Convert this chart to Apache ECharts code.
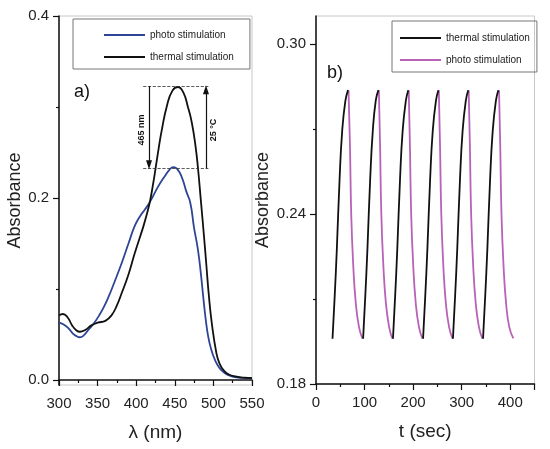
<!DOCTYPE html>
<html>
<head>
<meta charset="utf-8">
<title>Absorbance</title>
<script src="https://cdn.jsdelivr.net/npm/echarts@6.0.0/dist/echarts.min.js"></script>
<style>
html, body { margin: 0; padding: 0; background: #fff; }
#chart { width: 550px; height: 449px; }
</style>
</head>
<body>
<div id="chart"></div>
<script>
// a) spectra, [lambda nm, absorbance]
var photoSpectrum = [
	[300,0.063],[306,0.061],[312,0.057],[318,0.051],[323,0.048],[327,0.047],[332,0.049],[338,0.055],
	[345,0.062],[352,0.071],[358,0.080],[364,0.091],[372,0.108],[381,0.128],[390,0.150],[398,0.169],
	[405,0.180],[411,0.187],[418,0.196],[428,0.212],[437,0.224],[443,0.231],[448,0.234],[453,0.232],
	[459,0.223],[465,0.207],[470,0.195],[475,0.167],[480,0.143],[484,0.115],[487,0.090],[490,0.067],
	[493,0.049],[497,0.034],[502,0.022],[508,0.013],[515,0.0075],[522,0.0045],[530,0.003],[540,0.0022],[550,0.002]
];
var thermalSpectrum = [
	[300,0.071],[305,0.0725],[311,0.069],[317,0.060],[322,0.055],[327,0.053],[334,0.055],[342,0.060],
	[350,0.063],[360,0.065],[368,0.071],[375,0.082],[381,0.095],[390,0.116],[398,0.139],[409,0.168],
	[414,0.183],[418,0.197],[422,0.216],[425,0.232],[429,0.254],[433,0.274],[440,0.302],[447,0.318],
	[454,0.322],[461,0.316],[467,0.300],[472,0.283],[477,0.256],[480,0.233],[484,0.195],[488,0.156],
	[491,0.125],[494,0.094],[498,0.062],[504,0.029],[508,0.018],[513,0.011],[520,0.006],[530,0.0037],
	[540,0.0025],[550,0.002]
];
// dashed levels of the two peak heights on a)
var peakLevels = [0.323, 0.2325];

// b) switching cycles, [t sec, absorbance]
var thermalCycles = [
	[[34,0.196],[38.5,0.211],[43,0.228],[48.5,0.252],[54,0.2695],[60.5,0.280],[66,0.2838]],
	[[97,0.196],[101.5,0.211],[106,0.228],[111.5,0.252],[117,0.2695],[123,0.280],[128.5,0.2838]],
	[[158.5,0.196],[163,0.211],[167.5,0.228],[173,0.252],[178.5,0.2695],[185,0.280],[190,0.2838]],
	[[220.5,0.196],[225,0.211],[229.5,0.228],[235,0.252],[240.5,0.2695],[247,0.280],[252,0.2838]],
	[[282,0.196],[286.5,0.211],[291,0.228],[296.5,0.252],[302,0.2695],[308.5,0.280],[313.5,0.2838]],
	[[344,0.196],[348.5,0.211],[353,0.228],[358.5,0.252],[364,0.2695],[370.5,0.280],[375.5,0.2838]]
];
var photoCycles = [
	[[67,0.2838],[70,0.2638],[72.5,0.2403],[76.5,0.2226],[82,0.2085],[88.5,0.2002],[95.5,0.1961]],
	[[129.5,0.2838],[132,0.2638],[134.5,0.2403],[138.5,0.2226],[144,0.2085],[150.5,0.2002],[157,0.1961]],
	[[191,0.2838],[193.5,0.2638],[196,0.2403],[200,0.2226],[205.5,0.2085],[212,0.2002],[219,0.1961]],
	[[253,0.2838],[255.5,0.2638],[258,0.2403],[262,0.2226],[267.5,0.2085],[274,0.2002],[281,0.1961]],
	[[314.5,0.2838],[317,0.2638],[319.5,0.2403],[323.5,0.2226],[329,0.2085],[335.5,0.2002],[342.5,0.1961]],
	[[377,0.2838],[379.5,0.2638],[382,0.2403],[386,0.2226],[391.5,0.2085],[398,0.2002],[406.5,0.1961]]
];

var spectrumLabels = [0, 0.2, 0.4];
var spectrumMinor = [0.1, 0.3];
var cycleLabels = [0.18, 0.24, 0.30];
var cycleMinor = [0.21, 0.27];

var legendNames = {
	'photo-a': 'photo stimulation',
	'thermal-a': 'thermal stimulation',
	'thermal-b': 'thermal stimulation',
	'photo-b': 'photo stimulation'
};

var FONT = 'Liberation Sans, Arial, sans-serif';
var BLUE = '#2e4596', BLACK = '#111', PINK = '#b862b8';

function xAxisOf(grid, min, max, interval, name) {
	return {
		type: 'value', gridIndex: grid, min: min, max: max, interval: interval,
		name: name, nameLocation: 'middle', nameGap: 38,
		nameTextStyle: { fontSize: 19, color: '#222', fontFamily: FONT },
		axisLine: { lineStyle: { color: '#111', width: 1.5 } },
		axisTick: { inside: false, length: 6, lineStyle: { color: '#111', width: 1.2 } },
		minorTick: { show: true, splitNumber: 2, length: 3, lineStyle: { color: '#111', width: 1.2 } },
		axisLabel: { fontSize: 15, color: '#222', fontFamily: FONT, margin: 11 },
		splitLine: { show: false }
	};
}
function yAxisOf(grid, min, max, labels, digits, name, gap) {
	return {
		type: 'value', gridIndex: grid, min: min, max: max, position: 'left',
		name: name, nameLocation: 'middle', nameGap: gap,
		nameTextStyle: { fontSize: 18, color: '#222', fontFamily: FONT },
		axisLine: { lineStyle: { color: '#111', width: 1.5 } },
		axisTick: { length: 6, customValues: labels, lineStyle: { color: '#111', width: 1.2 } },
		axisLabel: {
			fontSize: 15, color: '#222', fontFamily: FONT, margin: 10,
			customValues: labels,
			formatter: function (v) { return v.toFixed(digits); }
		},
		splitLine: { show: false }
	};
}
function minorAxisOf(grid, min, max, ticks) {
	return {
		type: 'value', gridIndex: grid, min: min, max: max, position: 'left',
		axisLine: { show: false },
		axisTick: { length: 3, customValues: ticks, lineStyle: { color: '#111', width: 1.2 } },
		axisLabel: { show: false },
		splitLine: { show: false }
	};
}
function legendOf(left, top, names, padding) {
	return {
		left: left, top: top, orient: 'vertical', data: names,
		icon: 'path://M0,0H41V2H0Z',
		itemWidth: 41, itemHeight: 2, itemGap: 10, padding: padding,
		borderColor: '#777', borderWidth: 1, selectedMode: false,
		textStyle: { fontSize: 10, color: '#222', fontFamily: FONT, lineHeight: 12 },
		formatter: function (n) { return legendNames[n]; }
	};
}

var series = [
	{
		name: 'photo-a', type: 'line', xAxisIndex: 0, yAxisIndex: 0,
		data: photoSpectrum, smooth: true, symbol: 'none',
		lineStyle: { color: BLUE, width: 1.8 }, itemStyle: { color: BLUE }
	},
	{
		name: 'thermal-a', type: 'line', xAxisIndex: 0, yAxisIndex: 0,
		data: thermalSpectrum, smooth: true, symbol: 'none',
		lineStyle: { color: BLACK, width: 1.8 }, itemStyle: { color: BLACK },
		markLine: {
			silent: true, symbol: 'none', animation: false,
			label: { show: false },
			lineStyle: { type: 'dashed', color: '#333', width: 0.8 },
			data: [
				[{ coord: [409, peakLevels[0]] }, { coord: [493.5, peakLevels[0]] }],
				[{ coord: [409, peakLevels[1]] }, { coord: [493.5, peakLevels[1]] }],
				[
					{ coord: [416.6, peakLevels[0]], symbol: 'none' },
					{ coord: [416.6, peakLevels[1] + 0.004], symbol: 'triangle', symbolSize: [6, 9],
						lineStyle: { type: 'solid', color: '#111', width: 1.2 } }
				],
				[
					{ coord: [490.4, peakLevels[1]], symbol: 'none' },
					{ coord: [490.4, peakLevels[0] - 0.004], symbol: 'triangle', symbolSize: [6, 9],
						lineStyle: { type: 'solid', color: '#111', width: 1.2 } }
				]
			]
		}
	}
];
thermalCycles.forEach(function (c) {
	series.push({
		name: 'thermal-b', type: 'line', xAxisIndex: 1, yAxisIndex: 2,
		data: c, smooth: true, symbol: 'none', z: 3,
		lineStyle: { color: BLACK, width: 1.8 }, itemStyle: { color: BLACK }
	});
});
photoCycles.forEach(function (c) {
	series.push({
		name: 'photo-b', type: 'line', xAxisIndex: 1, yAxisIndex: 2,
		data: c, smooth: true, symbol: 'none', z: 2,
		lineStyle: { color: PINK, width: 1.8 }, itemStyle: { color: PINK }
	});
});

var chart = echarts.init(document.getElementById('chart'));
chart.setOption({
	backgroundColor: '#fff',
	animation: false,
	grid: [
		{ left: 59, top: 16, width: 193, height: 369, show: true, borderColor: '#c8c8c8', borderWidth: 1 },
		{ left: 316, top: 16, width: 225, height: 368, show: true, borderColor: '#c8c8c8', borderWidth: 1 }
	],
	xAxis: [
		xAxisOf(0, 300, 550, 50, 'λ (nm)'),
		xAxisOf(1, 0, 450, 100, 't (sec)')
	],
	yAxis: [
		yAxisOf(0, -0.0055, 0.4, spectrumLabels, 1, 'Absorbance', 35),
		minorAxisOf(0, -0.0055, 0.4, spectrumMinor),
		yAxisOf(1, 0.18, 0.31, cycleLabels, 2, 'Absorbance', 44),
		minorAxisOf(1, 0.18, 0.31, cycleMinor)
	],
	legend: [
		legendOf(73, 19, ['photo-a', 'thermal-a'], [10, 16, 6, 31]),
		legendOf(392, 21, ['thermal-b', 'photo-b'], [11, 7, 6, 8])
	],
	series: series
});

// panel letters and the rotated annotation texts (placed at data positions)
var p465 = chart.convertToPixel({ seriesIndex: 1 }, [407, 0.2747]);
var p25 = chart.convertToPixel({ seriesIndex: 1 }, [499.9, 0.2747]);
chart.setOption({
	graphic: [
		{ type: 'text', left: 74, top: 83, style: { text: 'a)', font: '18px ' + FONT, fill: '#111' } },
		{ type: 'text', left: 327, top: 64, style: { text: 'b)', font: '18px ' + FONT, fill: '#111' } },
		{ type: 'text', x: p465[0], y: p465[1], rotation: Math.PI / 2,
			style: { text: '465 nm', font: 'bold 9px ' + FONT, fill: '#111', align: 'center', verticalAlign: 'middle' } },
		{ type: 'text', x: p25[0], y: p25[1], rotation: Math.PI / 2,
			style: { text: '25 °C', font: 'bold 9px ' + FONT, fill: '#111', align: 'center', verticalAlign: 'middle' } }
	]
});
</script>
</body>
</html>
